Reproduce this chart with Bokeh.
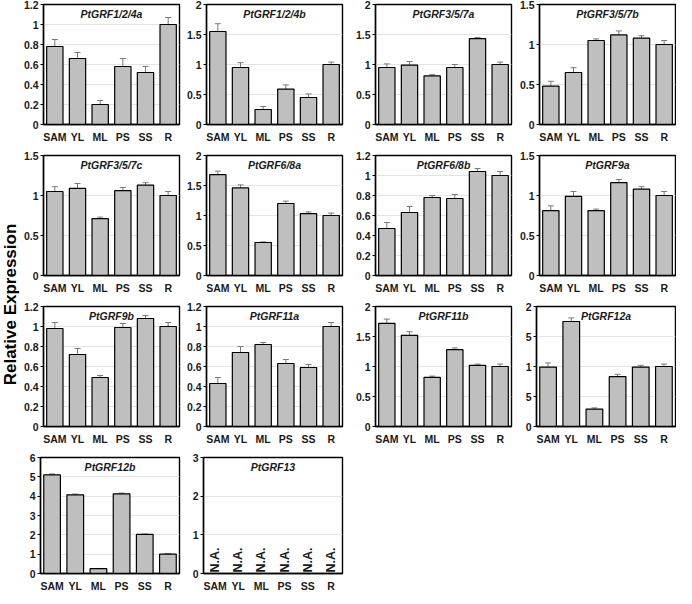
import numpy as np
from bokeh.plotting import figure
from bokeh.layouts import row, column
from bokeh.models import (ColumnDataSource, Whisker, TeeHead, Range1d, FactorRange,
                          Label, FixedTicker)
from bokeh.embed import file_html
from bokeh.resources import INLINE
from bokeh.core.properties import value

tissues = ["SAM", "YL", "ML", "PS", "SS", "R"]

grf124a = [0.78, 0.66, 0.20, 0.58, 0.52, 1.00]
grf124a_err = [0.07, 0.06, 0.04, 0.08, 0.06, 0.07]
grf124b = [1.55, 0.95, 0.25, 0.59, 0.45, 1.00]
grf124b_err = [0.13, 0.08, 0.05, 0.07, 0.06, 0.04]
grf357a = [0.95, 0.99, 0.81, 0.95, 1.43, 1.00]
grf357a_err = [0.06, 0.06, 0.02, 0.05, 0.02, 0.04]
grf357b = [0.48, 0.65, 1.05, 1.12, 1.08, 1.00]
grf357b_err = [0.06, 0.06, 0.02, 0.05, 0.03, 0.05]
grf357c = [1.05, 1.09, 0.71, 1.06, 1.13, 1.00]
grf357c_err = [0.06, 0.06, 0.02, 0.04, 0.03, 0.05]
grf68a = [1.68, 1.46, 0.55, 1.20, 1.03, 1.00]
grf68a_err = [0.06, 0.05, 0.01, 0.04, 0.03, 0.04]
grf68b = [0.47, 0.63, 0.78, 0.77, 1.04, 1.00]
grf68b_err = [0.06, 0.06, 0.02, 0.04, 0.03, 0.04]
grf9a = [0.81, 0.99, 0.81, 1.16, 1.08, 1.00]
grf9a_err = [0.06, 0.06, 0.02, 0.04, 0.03, 0.05]
grf9b = [0.98, 0.72, 0.49, 0.99, 1.08, 1.00]
grf9b_err = [0.06, 0.06, 0.02, 0.04, 0.03, 0.04]
grf11a = [0.43, 0.74, 0.82, 0.63, 0.59, 1.00]
grf11a_err = [0.06, 0.06, 0.02, 0.04, 0.03, 0.04]
grf11b = [1.72, 1.52, 0.82, 1.28, 1.02, 1.00]
grf11b_err = [0.07, 0.06, 0.02, 0.03, 0.02, 0.04]
grf12a = [0.99, 1.75, 0.29, 0.83, 0.99, 1.00]
grf12a_err = [0.07, 0.06, 0.02, 0.04, 0.03, 0.04]
grf12b = [5.10, 4.07, 0.25, 4.12, 2.02, 1.00]
grf12b_err = [0.05, 0.04, 0.01, 0.04, 0.02, 0.03]
grf13_text = ["N.A."] * 6

ticks_12 = [0, 0.2, 0.4, 0.6, 0.8, 1.0, 1.2]
ticks_15 = [0, 0.5, 1.0, 1.5]
ticks_2 = [0, 0.5, 1.0, 1.5, 2.0]
ticks_6 = [0, 1, 2, 3, 4, 5, 6]
ticks_3 = [0, 1, 2, 3]

FONT = "Liberation Sans"
RIGHTS = [4, 10, 5, 1]


def panel(title, vals, errs, ymax, ticks, col, last_row, overrides=None, na_text=None):
    L, FW, R = 20, 139, RIGHTS[col]
    T, FH = 4, 120
    B = 17 if last_row else 27
    p = figure(x_range=FactorRange(*tissues), y_range=Range1d(0, ymax),
               width=L + FW + R, height=T + FH + B,
               min_border_left=L, min_border_right=R, min_border_top=T, min_border_bottom=B,
               output_backend="svg", toolbar_location=None, tools="")
    p.outline_line_color = "black"
    p.outline_line_width = 1.4
    p.xgrid.grid_line_color = None
    p.ygrid.grid_line_color = "#E4E4E4"
    p.ygrid.grid_line_width = 1

    p.yaxis.ticker = FixedTicker(ticks=ticks)
    if overrides:
        p.yaxis.major_label_overrides = overrides
    p.yaxis.minor_tick_line_color = None
    p.yaxis.major_tick_in = 0
    p.yaxis.major_tick_out = 3
    p.yaxis.major_label_standoff = 2
    p.yaxis.axis_line_width = 1.4
    p.yaxis.axis_line_color = "black"

    p.xaxis.major_tick_in = 0
    p.xaxis.major_tick_out = 0
    p.xaxis.major_label_standoff = 6
    p.xaxis.axis_line_width = 1.4
    p.xaxis.axis_line_color = "black"
    for ax in (p.xaxis, p.yaxis):
        ax.major_label_text_font = FONT
        ax.major_label_text_font_style = "bold"
        ax.major_label_text_font_size = "10.5px"
        ax.major_label_text_color = "#1a1a1a"

    if vals is not None:
        src = ColumnDataSource(dict(
            x=tissues, y=vals,
            upper=[v + e for v, e in zip(vals, errs)],
            lower=[v - e for v, e in zip(vals, errs)]))
        p.vbar(x="x", top="y", width=0.72, source=src, fill_color="#BFBFBF",
               line_color="black", line_width=1.2)
        w = Whisker(base="x", upper="upper", lower="lower", source=src,
                    line_color="#7A7A7A", line_width=1,
                    upper_head=TeeHead(size=6, line_color="#7A7A7A", line_width=1),
                    lower_head=TeeHead(size=6, line_color="#7A7A7A", line_width=1))
        p.add_layout(w)
    if na_text is not None:
        p.text(x=tissues, y=[0] * 6, text=na_text, angle=np.pi / 2,
               text_align="left", text_baseline="middle", y_offset=-1,
               text_font=value(FONT), text_font_style="bold", text_font_size="12.5px",
               text_color="#1a1a1a")

    p.add_layout(Label(x=3, y=ymax, y_offset=-3, text=title, text_align="center",
                       text_baseline="top", text_font=FONT, text_font_style="bold italic",
                       text_font_size="10.5px", text_color="#1a1a1a"))
    return p


r1 = [
    panel("PtGRF1/2/4a", grf124a, grf124a_err, 1.2, ticks_12, 0, False),
    panel("PtGRF1/2/4b", grf124b, grf124b_err, 2, ticks_2, 1, False),
    panel("PtGRF3/5/7a", grf357a, grf357a_err, 2, ticks_2, 2, False),
    panel("PtGRF3/5/7b", grf357b, grf357b_err, 1.5, ticks_15, 3, False),
]
r2 = [
    panel("PtGRF3/5/7c", grf357c, grf357c_err, 1.5, ticks_15, 0, False),
    panel("PtGRF6/8a", grf68a, grf68a_err, 2, ticks_2, 1, False),
    panel("PtGRF6/8b", grf68b, grf68b_err, 1.2, ticks_12, 2, False),
    panel("PtGRF9a", grf9a, grf9a_err, 1.5, ticks_15, 3, False),
]
r3 = [
    panel("PtGRF9b", grf9b, grf9b_err, 1.2, ticks_12, 0, False),
    panel("PtGRF11a", grf11a, grf11a_err, 1.2, ticks_12, 1, False),
    panel("PtGRF11b", grf11b, grf11b_err, 2, ticks_2, 2, False),
    panel("PtGRF12a", grf12a, grf12a_err, 2, ticks_2, 3, False,
          overrides={0.5: "5", 1.5: "5"}),
]
r4 = [
    panel("PtGRF12b", grf12b, grf12b_err, 6, ticks_6, 0, True),
    panel("PtGRF13", None, None, 3, ticks_3, 1, True, na_text=grf13_text),
]

TOTAL_H = 151 * 3 + 141
lab = figure(width=20, height=TOTAL_H, x_range=Range1d(0, 1), y_range=Range1d(0, TOTAL_H),
             min_border=0, output_backend="svg", toolbar_location=None, tools="")
lab.axis.visible = False
lab.grid.grid_line_color = None
lab.outline_line_color = None
lab.add_layout(Label(x=0.5, y=TOTAL_H - 304, text="Relative Expression", angle=np.pi / 2,
                     text_align="center", text_baseline="middle", text_font=FONT,
                     text_font_style="bold", text_font_size="17px", text_color="black"))

layout = row(lab, column(row(*r1), row(*r2), row(*r3), row(*r4)))

open("out.html", "w").write(file_html(layout, INLINE))
